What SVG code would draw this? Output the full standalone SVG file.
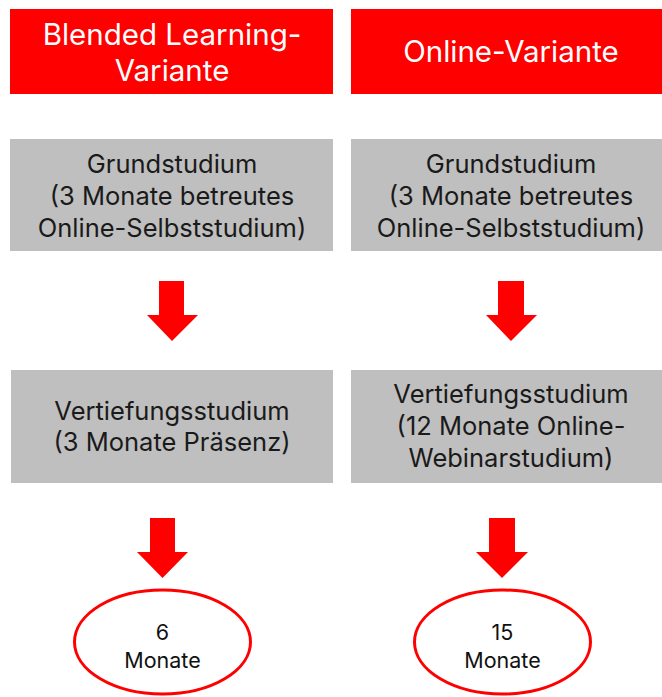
<svg xmlns="http://www.w3.org/2000/svg" width="662" height="697" viewBox="0 0 662 697">
<defs>
<style>
.hdr{fill:#ff0000}
.box{fill:#bfbfbf}
.ht{font-family:Inter,"Open Sans",sans-serif;font-size:29.5px;fill:#ffffff;text-anchor:middle}
.bt{font-family:Inter,"Open Sans",sans-serif;font-size:25.5px;fill:#1a1a1a;text-anchor:middle}
.et{font-family:Inter,"Open Sans",sans-serif;font-size:21.5px;fill:#111111;text-anchor:middle}
.arr{fill:#ff0000}
.ell{fill:#ffffff;stroke:#ff0000;stroke-width:3}
</style>
</defs>
<rect width="662" height="697" fill="#ffffff"/>
<g id="hdr-blended">
<rect class="hdr" x="10" y="9" width="323" height="85"/>
<text class="ht"><tspan x="172" y="45">Blended Learning-</tspan><tspan x="172" y="81">Variante</tspan></text>
</g>
<g id="hdr-online">
<rect class="hdr" x="351" y="9" width="311" height="85"/>
<text class="ht" x="511" y="62">Online-Variante</text>
</g>
<g id="grund-left">
<rect class="box" x="10" y="139" width="323" height="112"/>
<text class="bt"><tspan x="172" y="173">Grundstudium</tspan><tspan x="172" y="205">(3 Monate betreutes</tspan><tspan x="172" y="237">Online-Selbststudium)</tspan></text>
</g>
<g id="grund-right">
<rect class="box" x="351" y="139" width="311" height="112"/>
<text class="bt"><tspan x="511" y="173">Grundstudium</tspan><tspan x="511" y="205">(3 Monate betreutes</tspan><tspan x="511" y="237">Online-Selbststudium)</tspan></text>
</g>
<g id="vert-left">
<rect class="box" x="11" y="370" width="322" height="113"/>
<text class="bt"><tspan x="172" y="420">Vertiefungsstudium</tspan><tspan x="172" y="451">(3 Monate Präsenz)</tspan></text>
</g>
<g id="vert-right">
<rect class="box" x="351" y="370" width="311" height="113"/>
<text class="bt"><tspan x="511" y="403">Vertiefungsstudium</tspan><tspan x="511" y="435">(12 Monate Online-</tspan><tspan x="511" y="467">Webinarstudium)</tspan></text>
</g>
<g id="result-left">
<ellipse class="ell" cx="162.5" cy="642" rx="88" ry="52"/>
<text class="et"><tspan x="162.5" y="640">6</tspan><tspan x="162.5" y="668">Monate</tspan></text>
</g>
<g id="result-right">
<ellipse class="ell" cx="502.5" cy="642" rx="88" ry="52"/>
<text class="et"><tspan x="502.5" y="640">15</tspan><tspan x="502.5" y="668">Monate</tspan></text>
</g>
<g id="connectors">
<polygon class="arr" points="159,281 184,281 184,315 198,315 172,341 147,315 159,315"/>
<polygon class="arr" points="498,281 524,281 524,315 537,315 511,341 486,315 498,315"/>
<polygon class="arr" points="150,518 175,518 175,552 188,552 162.5,578 137,552 150,552"/>
<polygon class="arr" points="489,518 515,518 515,552 528,552 502,578 476,552 489,552"/>
</g>
</svg>
